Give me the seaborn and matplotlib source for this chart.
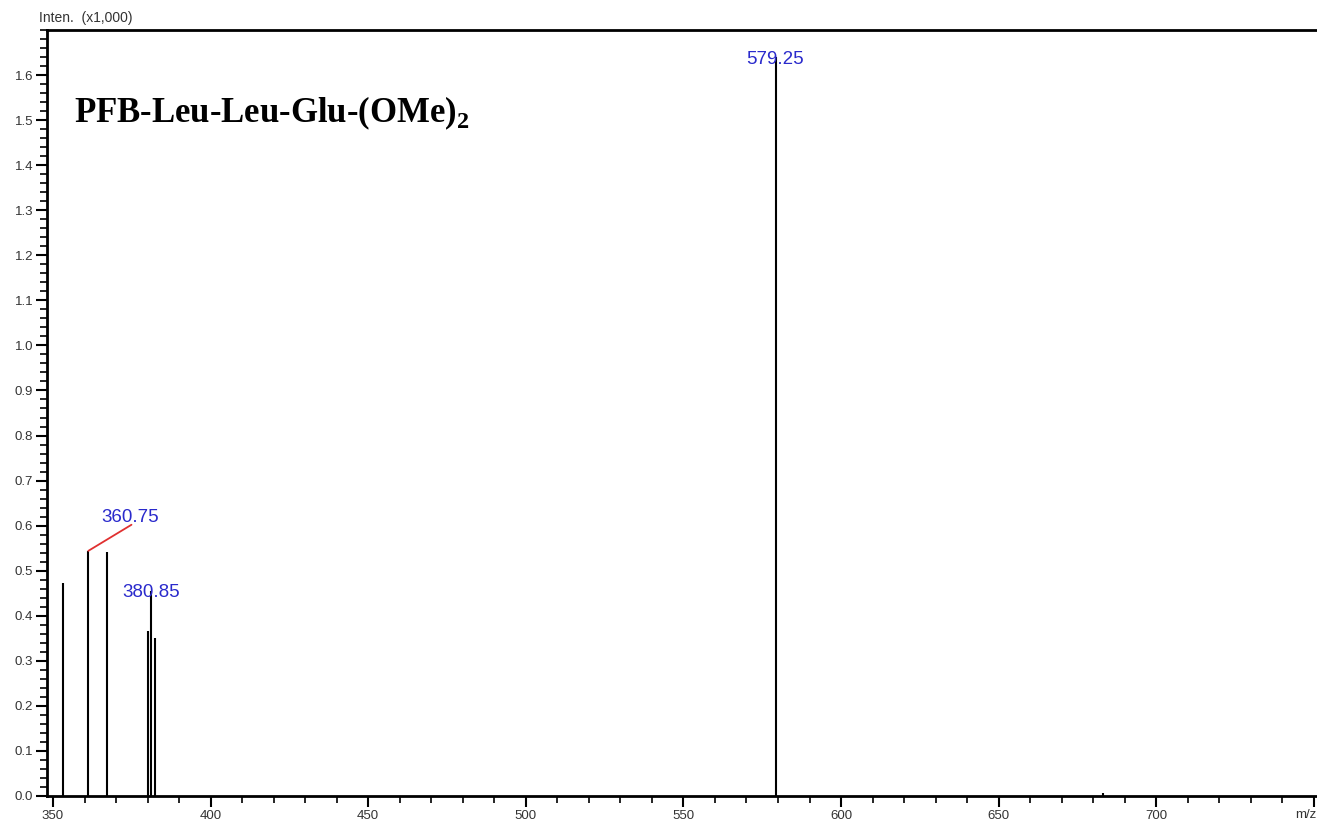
import matplotlib
matplotlib.use("Agg")
import matplotlib.pyplot as plt
from matplotlib.ticker import MultipleLocator, FixedLocator, FuncFormatter
import seaborn as sns
import pandas as pd

# data (m/z, intensity x1000)
mz = [353.3, 361.2, 367.2, 380.0, 381.2, 382.4, 579.25, 683.0]
intensity = [0.472, 0.544, 0.541, 0.367, 0.455, 0.351, 1.640, 0.006]
peak_labels = ["360.75", "380.85", "579.25"]
label_x = [374.5, 381.0, 579.1]
label_y = [0.600, 0.433, 1.615]
x_ticks = [350, 400, 450, 500, 550, 600, 650, 700]
y_ticks = [0.0, 0.1, 0.2, 0.3, 0.4, 0.5, 0.6, 0.7, 0.8, 0.9, 1.0, 1.1, 1.2, 1.3, 1.4, 1.5, 1.6]

df = pd.DataFrame({"mz": mz, "intensity": intensity})

sns.set_theme(style="ticks")
plt.rcParams['font.family'] = ['Liberation Sans', 'DejaVu Sans']
plt.rcParams['mathtext.fontset'] = 'custom'
plt.rcParams['mathtext.bf'] = 'Liberation Serif:bold'
plt.rcParams['mathtext.rm'] = 'Liberation Serif'

fig = plt.figure(figsize=(13.17, 8.24), dpi=100)
ax = fig.add_axes([47/1317, 1 - 796/824, 1 - 47/1317, (796 - 30)/824])

ax.vlines(df["mz"], 0, df["intensity"], color="black", linewidth=1.5)
# leader line for 360.75
ax.plot([361.2, 374.9], [0.544, 0.602], color="#e03030", linewidth=1.3)

for t, x, y in zip(peak_labels, label_x, label_y):
    ax.text(x, y, t, color="#2a2acc", fontsize=13.5, ha="center", va="bottom")

ax.set_xlim(348.1, 751)
ax.set_ylim(0, 1.70)

ax.xaxis.set_major_locator(FixedLocator(x_ticks + [750]))
ax.xaxis.set_minor_locator(MultipleLocator(10))
ax.yaxis.set_major_locator(FixedLocator(y_ticks))
ax.yaxis.set_minor_locator(MultipleLocator(0.02))
ax.xaxis.set_major_formatter(FuncFormatter(lambda v, p: "" if abs(v - 750) < 1 else f"{v:.0f}"))
ax.yaxis.set_major_formatter(FuncFormatter(lambda v, p: f"{v:.1f}"))

ax.tick_params(axis="both", which="major", length=8, width=1.5, labelsize=9.5, labelcolor="#333333", color="black", direction="out", pad=2)
ax.tick_params(axis="both", which="minor", length=5, width=1.2, color="black", direction="out")
for s in ["left", "bottom", "top"]:
    ax.spines[s].set_linewidth(2)
    ax.spines[s].set_color("black")
ax.spines["right"].set_visible(False)

fig.text(1316/1317, 1 - 815/824, "m/z", fontsize=9.5, color="#333333", ha="right", va="center")
fig.text(39/1317, 1 - 18/824, "Inten.  (x1,000)", fontsize=10, color="#333333", ha="left", va="center")

ax.text(0.021, 0.88, r"PFB-Leu-Leu-Glu-(OMe)$_\mathbf{2}$", transform=ax.transAxes,
        fontsize=25, fontweight="bold", family=["Liberation Serif"], color="black", ha="left", va="baseline")

fig.savefig("out.png", dpi=100, facecolor="white")
